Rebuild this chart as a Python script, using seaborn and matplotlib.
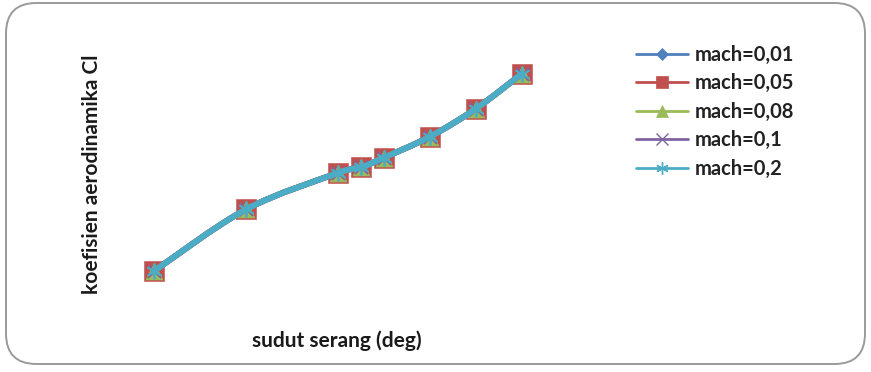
import numpy as np
import pandas as pd
import matplotlib
matplotlib.use("Agg")
import matplotlib.pyplot as plt
from matplotlib.path import Path
from matplotlib.patches import PathPatch, FancyBboxPatch
from matplotlib.lines import Line2D
import seaborn as sns

# angle of attack (deg) and lift coefficient
sudut = [0, 4, 8, 9, 10, 12, 14, 16]
cl = [0.25, 0.69, 0.95, 0.99, 1.06, 1.21, 1.41, 1.66]

mach_labels = ["mach=0,01", "mach=0,05", "mach=0,08", "mach=0,1", "mach=0,2"]
colors = ["#4F81BD", "#C0504D", "#9BBB59", "#8064A2", "#4BACC6"]
asterisk = (6, 2, 0)
markers = ["D", "s", "^", "x", asterisk]
msizes = [90, 190, 150, 90, 110]
thin = [False, False, False, True, True]

sns.set_theme(style="white")
plt.rcParams["font.family"] = ["Lato", "DejaVu Sans"]

df = pd.concat(
    [pd.DataFrame({"sudut": sudut, "cl": cl, "mach": m}) for m in mach_labels],
    ignore_index=True,
)

fig = plt.figure(figsize=(8.71, 3.72), dpi=100)
W, H = 871, 372

# rounded chart frame, kept behind the axes
frame = FancyBboxPatch((6 / W, 8 / H), 859 / W, 361 / H,
                       boxstyle="round,pad=0,rounding_size=0.035",
                       transform=fig.transFigure, facecolor="white",
                       edgecolor="#9a9a9a", linewidth=1.4, mutation_aspect=W / H,
                       zorder=-5)
fig.patches.append(frame)

ax = fig.add_axes([120 / W, (H - 300) / H, 440 / W, 250 / H])
ax.set_facecolor("none")
px_x = 23.0
ax.set_xlim(-34 / px_x, -34 / px_x + 440 / px_x)
ax.set_ylim(0.25 - 29 / 140, 0.25 + 221 / 140)
for s in ax.spines.values():
    s.set_visible(False)


def smooth_path(xs, ys, t=1 / 6):
    pts = np.column_stack([xs, ys]).astype(float)
    n = len(pts)
    verts = [pts[0]]
    codes = [Path.MOVETO]
    for i in range(n - 1):
        p0 = pts[i - 1] if i > 0 else pts[i]
        p1 = pts[i]
        p2 = pts[i + 1]
        p3 = pts[i + 2] if i + 2 < n else pts[i + 1]
        c1 = p1 + (p2 - p0) * t
        c2 = p2 - (p3 - p1) * t
        verts += [c1, c2, p2]
        codes += [Path.CURVE4] * 3
    return Path(verts, codes)


for k, m in enumerate(mach_labels):
    sub = df[df["mach"] == m]
    patch = PathPatch(smooth_path(sub["sudut"], sub["cl"]), facecolor="none",
                      edgecolor=colors[k], linewidth=4.2, zorder=2 + 2 * k,
                      capstyle="round", joinstyle="round")
    ax.add_patch(patch)
    sns.scatterplot(data=sub, x="sudut", y="cl", ax=ax, color=colors[k],
                    marker=markers[k], s=msizes[k],
                    linewidth=1.3 if thin[k] else 0.4,
                    edgecolor=colors[k], zorder=3 + 2 * k, legend=False)

ax.set_xlabel("")
ax.set_ylabel("")
ax.set_xticks([])
ax.set_yticks([])

fig.text(337 / W, 1 - 341 / H, "sudut serang (deg)", ha="center", va="center",
         fontsize=15, fontweight="bold", color="#1a1a1a")
fig.text(92 / W, 1 - 174 / H, "koefisien aerodinamika Cl", ha="center", va="center",
         rotation=90, fontsize=15, fontweight="bold", color="#1a1a1a")

handles = [Line2D([], [], color=c, marker=mk, markersize=ms, linewidth=2,
                  markeredgewidth=1.0 if th else 0.5, markeredgecolor=c,
                  alpha=1.0)
           for c, mk, ms, th in zip(colors, markers, [6, 9, 8, 8, 9], thin)]
leg = fig.legend(handles, mach_labels, loc="upper left",
                 bbox_to_anchor=(636 / W, 1 - 45 / H), frameon=False,
                 prop={"size": 14.5, "weight": "bold"}, handlelength=2.6,
                 handletextpad=0.3, labelspacing=0.42, borderaxespad=0,
                 borderpad=0)
for t in leg.get_texts():
    t.set_color("#222222")

fig.savefig("out.png", dpi=100)
